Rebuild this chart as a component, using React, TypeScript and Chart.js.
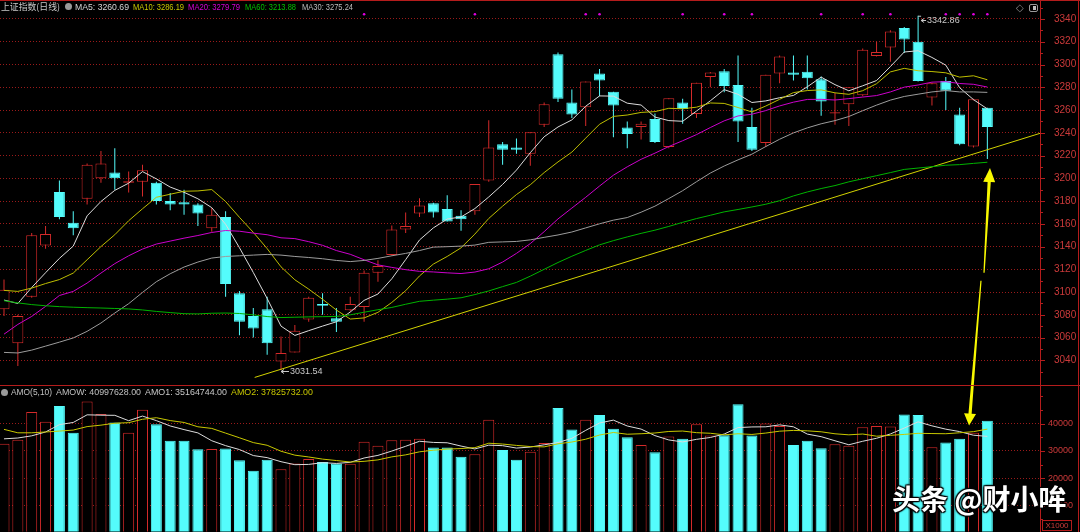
import React, { useEffect, useRef } from "react";
import { Chart, registerables } from "chart.js";

Chart.register(...registerables);

// ---------- data ----------
const OPEN = [3085, 3055, 3096, 3141, 3188, 3161, 3182, 3200, 3205, 3196, 3197, 3196, 3180, 3179, 3177, 3156, 3166, 3099, 3079, 3085, 3039, 3047, 3076, 3089.5, 3077, 3084, 3087, 3117, 3132.5, 3155, 3169, 3178, 3173, 3167, 3171, 3198, 3230, 3227, 3221.5, 3247, 3309, 3266.5, 3262.5, 3292, 3276, 3244.6, 3245, 3252, 3227.4, 3266.5, 3256.6, 3289, 3294, 3282, 3245, 3231, 3292, 3293, 3293.7, 3287, 3257, 3265, 3273, 3307.5, 3315, 3332, 3320, 3271, 3285.6, 3256, 3228, 3262];
const HIGH = [3111, 3080, 3152, 3158, 3198, 3171, 3213, 3224, 3226.5, 3206, 3212, 3197, 3187, 3190, 3178, 3174, 3171, 3101, 3086, 3096, 3061, 3071, 3096, 3099, 3086, 3096, 3119, 3128, 3158.5, 3170, 3182.5, 3178.5, 3185, 3172, 3195, 3251, 3232, 3235, 3240.5, 3266.5, 3310.5, 3278, 3285, 3296, 3276, 3250, 3250, 3257, 3270.4, 3270, 3284, 3293.5, 3296, 3308, 3262, 3291, 3308, 3308, 3308, 3289.4, 3275, 3280, 3314, 3320, 3330, 3333, 3342.86, 3284, 3289, 3262, 3270, 3262];
const LOW = [3079, 3035, 3095, 3138, 3164, 3150, 3177, 3196, 3190, 3187.5, 3184, 3177, 3172, 3168, 3158, 3153, 3096, 3062, 3060, 3045, 3031.54, 3047, 3074, 3080, 3065, 3083, 3074, 3109, 3132, 3152, 3166, 3165.6, 3162, 3154, 3168, 3197, 3212, 3221.6, 3211, 3245, 3267, 3253, 3246, 3272, 3236, 3226.5, 3234, 3231, 3226.5, 3248, 3253, 3280, 3275.6, 3232, 3224, 3227.4, 3283.5, 3286, 3278, 3255, 3247, 3246, 3272, 3307, 3302.5, 3310, 3285, 3264, 3260, 3229, 3227, 3217];
const CLOSE = [3102, 3079, 3150, 3151, 3166, 3156, 3212, 3213, 3200, 3197.5, 3207, 3180, 3177, 3177, 3169, 3168, 3107, 3074, 3068, 3055, 3046.5, 3066, 3095, 3088, 3074, 3089.5, 3117, 3123, 3155, 3158, 3176, 3170, 3162, 3164, 3195, 3227, 3225, 3225, 3240.5, 3265, 3270, 3256, 3285, 3286, 3264, 3239, 3248, 3232, 3270.4, 3261, 3284, 3293, 3281, 3250, 3225, 3291, 3307, 3291, 3288, 3267.4, 3258, 3280, 3313, 3311, 3329, 3322, 3285.6, 3283.5, 3277, 3230, 3269.5, 3245];

const MA5 = [3093, 3090, 3104, 3117, 3129.6, 3140.4, 3167, 3179.6, 3189.4, 3195.7, 3205.9, 3199.5, 3192.3, 3187.7, 3182, 3174.2, 3159.6, 3139, 3117.2, 3094.4, 3070.1, 3061.9, 3066.1, 3070.1, 3073.9, 3082.5, 3092.7, 3098.3, 3111.7, 3128.5, 3145.8, 3156.4, 3164.2, 3166, 3173.4, 3183.6, 3194.6, 3207.2, 3222.5, 3236.5, 3245.1, 3251.3, 3263.3, 3272.4, 3272.2, 3266, 3264.4, 3253.8, 3250.7, 3250.1, 3259.1, 3268.1, 3277.9, 3273.8, 3266.6, 3268, 3270.8, 3272.8, 3280.4, 3288.9, 3282.3, 3276.9, 3281.3, 3285.9, 3298.2, 3311, 3312.1, 3306.2, 3299.4, 3279.6, 3269.1, 3261];
const MA10 = [3101.5, 3100.6, 3103.5, 3107.5, 3111, 3116.7, 3128.4, 3140, 3150.4, 3162.7, 3173.2, 3183.3, 3186, 3188.6, 3188.9, 3190.1, 3179.6, 3165.7, 3152.5, 3138.2, 3122.2, 3110.8, 3102.6, 3093.7, 3084.2, 3076.3, 3077.3, 3082.2, 3090.9, 3101.2, 3114.2, 3124.6, 3131.3, 3138.9, 3151, 3164.7, 3175.5, 3185.7, 3194.3, 3205, 3214.4, 3223, 3235.3, 3247.5, 3254.4, 3255.6, 3257.9, 3258.6, 3261.5, 3261.1, 3262.5, 3266.2, 3265.8, 3262.2, 3258.3, 3263.5, 3269.4, 3275.3, 3277.1, 3277.7, 3275.1, 3273.8, 3277, 3283.1, 3293.5, 3296.6, 3294.5, 3293.8, 3292.7, 3288.9, 3290.1, 3286.6];
const MA20 = [3063, 3071.6, 3078.6, 3087.4, 3097, 3100.6, 3107.9, 3116.7, 3125, 3131.9, 3137.8, 3142.2, 3144.8, 3147.4, 3149.7, 3152.4, 3154.1, 3153.5, 3151.8, 3150.4, 3147.7, 3147, 3144.3, 3141.1, 3136.5, 3133.2, 3128.4, 3123.9, 3121.7, 3119.7, 3118.2, 3117.7, 3116.9, 3116.3, 3117.6, 3120.5, 3126.4, 3134, 3142.6, 3153.1, 3164.3, 3173.8, 3183.3, 3193.2, 3202.7, 3210.1, 3216.7, 3222.1, 3227.9, 3233, 3238.4, 3244.6, 3250.5, 3254.8, 3256.3, 3259.5, 3263.6, 3266.9, 3269.3, 3269.4, 3268.8, 3270, 3271.4, 3272.7, 3275.9, 3280.1, 3282, 3284.5, 3284.9, 3283.3, 3282.6, 3280.2];
const MA30 = [3047, 3046.5, 3049, 3052.5, 3056, 3059.7, 3065.5, 3072.8, 3081.6, 3089.8, 3099.7, 3109.1, 3116.1, 3122, 3126.4, 3129.9, 3131.3, 3131.9, 3132.5, 3133.1, 3132.5, 3131.3, 3130.4, 3129.3, 3127.8, 3126.8, 3127.8, 3129.6, 3131.9, 3134, 3136.5, 3139.5, 3139.9, 3140.4, 3141.3, 3143.7, 3144.1, 3144.5, 3145.9, 3148.1, 3150.2, 3152.8, 3156.4, 3160, 3163.2, 3165.5, 3170.2, 3175.5, 3182.2, 3189.1, 3197, 3204.6, 3210.8, 3216.2, 3221.2, 3227.9, 3234.3, 3239.9, 3244.3, 3247.9, 3250.7, 3254.3, 3259.4, 3264.3, 3268.7, 3271.9, 3273.9, 3275.9, 3277.1, 3275.9, 3275.9, 3275.5];
const MA60 = [3092.4, 3090.5, 3089, 3088, 3087.2, 3086.7, 3086.3, 3086, 3085.6, 3085.2, 3084.3, 3083, 3082, 3081, 3080.8, 3081.4, 3081.6, 3081.2, 3080, 3078.5, 3077.6, 3077.9, 3078.2, 3078.4, 3078.6, 3080, 3082.3, 3084.5, 3086.5, 3089.3, 3091.9, 3092.9, 3093.8, 3095, 3097.8, 3101, 3104.8, 3108.5, 3114, 3120, 3126, 3131.5, 3136.6, 3141.5, 3145.2, 3148.5, 3151.6, 3154.4, 3157.7, 3161.3, 3164.6, 3167.5, 3170.5, 3172.6, 3174.8, 3177.2, 3180.3, 3184.5, 3188, 3191, 3193.6, 3196.9, 3199.6, 3202.3, 3205, 3207.8, 3209, 3210.2, 3211.5, 3212, 3213.1, 3214.1];

// amounts, in thousands (axis unit X1000)
const AMOUNT = [32600, 34090, 44160, 40620, 46430, 36610, 48030, 43510, 40370, 36610, 45040, 39750, 33730, 33730, 30590, 30700, 30840, 26540, 22780, 26790, 23290, 25400, 27050, 25920, 25400, 25300, 33320, 31830, 33840, 34090, 34460, 31210, 31210, 27810, 28800, 41390, 30330, 26790, 29710, 32850, 45660, 37850, 41390, 43140, 38110, 34970, 32190, 29460, 35220, 34460, 39750, 35590, 35730, 47050, 35590, 40000, 39130, 32190, 33730, 30950, 32450, 31830, 38620, 39130, 38870, 43250, 43140, 31320, 33070, 34460, 36610, 40998];
const AMO1 = [34400, 34700, 35500, 36900, 39580, 40382, 43170, 43040, 42990, 41026, 42712, 41056, 39100, 37772, 36568, 33700, 31918, 30480, 28290, 27530, 26048, 24960, 25062, 25690, 25412, 25814, 27398, 28354, 29938, 31676, 33508, 33086, 32962, 31756, 30698, 32084, 31908, 31024, 31404, 32214, 33068, 34572, 37492, 40178, 41230, 39092, 37960, 35574, 33990, 33260, 34216, 34896, 36150, 38516, 38742, 38792, 39500, 38792, 36128, 35200, 33690, 32230, 33516, 34596, 36180, 38340, 40602, 39142, 37930, 37048, 35720, 35292];
const AMO2 = [37850, 36600, 36600, 36900, 37230, 37600, 38870, 39400, 40100, 40303, 41547, 42113, 41070, 40381, 38797, 38206, 36487, 34790, 33031, 32049, 29874, 28439, 27771, 26990, 26471, 25931, 26179, 26708, 27814, 28544, 29661, 30242, 30658, 30847, 31187, 32796, 32497, 31993, 31580, 31456, 32576, 33240, 34258, 35791, 36722, 36080, 36266, 36533, 37084, 37245, 36654, 36428, 35862, 36253, 36001, 36504, 37198, 37471, 37322, 36971, 36241, 35865, 36154, 35362, 35690, 36015, 36416, 36329, 36263, 36614, 37030, 37947];

const PRICE_TICK_MARKS = [3030, 3040, 3050, 3060, 3070, 3080, 3090, 3100, 3110, 3120, 3130, 3140, 3150, 3160, 3170, 3180, 3190, 3200, 3210, 3220, 3230, 3240, 3250, 3260, 3270, 3280, 3290, 3300, 3310, 3320, 3330, 3340, 3350];
const PRICE_LABELS = [3040, 3060, 3080, 3100, 3120, 3140, 3160, 3180, 3200, 3220, 3240, 3260, 3280, 3300, 3320, 3340];
const AMOUNT_TICK_MARKS = [5000, 10000, 15000, 20000, 25000, 30000, 35000, 40000, 45000, 50000];
const AMOUNT_LABELS = [10000, 20000, 30000, 40000];

const SIGNAL_INDEX = [26, 34, 42, 43, 49, 52, 54, 59, 62, 64, 68, 69, 70, 71];
const SIGNAL_LEVEL = 3344.1;

const TREND_X = [18.1, 74.8];
const TREND_Y = [3025, 3239.5];

// annotation arrows: [index, value] pairs
const ARROW_UP_FROM = [70.76, 3117];
const ARROW_UP_TO = [71.19, 3209];
const ARROW_DOWN_FROM = [70.54, 3110]; // price axis
const ARROW_DOWN_TO = [69.68, 39240]; // amount axis

// ---------- style ----------
const RED = "#d42a2a";
const CYAN = "#54fcfc";
const GRID = "#9a1a1a";
const AXIS = "#b41c1c";
const AXIS_TEXT = "#cc3a3a";
const FONT = '"Liberation Sans", Arial, sans-serif';

const isUp = (i: number) => CLOSE[i] >= OPEN[i];

function drawBigArrow(ctx: CanvasRenderingContext2D, ax: number, ay: number, tx: number, ty: number, headLen: number) {
  const dx = tx - ax, dy = ty - ay;
  const len = Math.hypot(dx, dy);
  const ux = dx / len, uy = dy / len;
  const nx = -uy, ny = ux;
  const bx = tx - ux * headLen, by = ty - uy * headLen;
  const hw = 6;
  ctx.beginPath();
  ctx.moveTo(ax + nx * 0.6, ay + ny * 0.6);
  ctx.lineTo(bx + nx * 1.6, by + ny * 1.6);
  ctx.lineTo(bx + nx * hw, by + ny * hw);
  ctx.lineTo(tx, ty);
  ctx.lineTo(bx - nx * hw, by - ny * hw);
  ctx.lineTo(bx - nx * 1.6, by - ny * 1.6);
  ctx.lineTo(ax - nx * 0.6, ay - ny * 0.6);
  ctx.closePath();
  ctx.fill();
}

function drawSmallLeftArrow(ctx: CanvasRenderingContext2D, x1: number, x2: number, y: number) {
  ctx.beginPath();
  ctx.moveTo(x1, y);
  ctx.lineTo(x2, y);
  ctx.moveTo(x2, y);
  ctx.lineTo(x2 + 3, y - 2);
  ctx.moveTo(x2, y);
  ctx.lineTo(x2 + 3, y + 2);
  ctx.stroke();
}

function drawTickMarks(ctx: CanvasRenderingContext2D, scale: any, marks: number[], labels: number[]) {
  const x0 = Math.round(scale.left) + 1;
  ctx.beginPath();
  marks.forEach((v) => {
    const y = Math.round(scale.getPixelForValue(v)) + 0.5;
    if (y < scale.top || y > scale.bottom) return;
    ctx.moveTo(x0, y);
    ctx.lineTo(x0 + (labels.includes(v) ? 4 : 2), y);
  });
  ctx.stroke();
}

const overlayPlugin = {
  id: "overlay",
  afterDatasetsDraw(chart: any) {
    const { ctx } = chart;
    const xs = chart.scales.x, ys = chart.scales.y, yv = chart.scales.yv;
    ctx.save();
    let hi = 0, lo = 0;
    HIGH.forEach((v, i) => { if (v > HIGH[hi]) hi = i; });
    LOW.forEach((v, i) => { if (v < LOW[lo]) lo = i; });
    ctx.strokeStyle = "#c8c8c8";
    ctx.fillStyle = "#c8c8c8";
    ctx.lineWidth = 1;
    ctx.font = "9px " + FONT;
    ctx.textBaseline = "middle";
    ctx.textAlign = "left";
    const hx = xs.getPixelForValue(hi), hy = ys.getPixelForValue(HIGH[hi]);
    ctx.beginPath();
    ctx.moveTo(hx, hy + 0.5);
    ctx.lineTo(hx + 3, hy + 0.5);
    ctx.stroke();
    drawSmallLeftArrow(ctx, hx + 8, hx + 3, Math.round(hy + 4) + 0.5);
    ctx.fillText(HIGH[hi].toFixed(2), hx + 9, hy + 4.5);
    const lx = xs.getPixelForValue(lo), ly = ys.getPixelForValue(LOW[lo]);
    drawSmallLeftArrow(ctx, lx + 8, lx, Math.round(ly + 1) + 0.5);
    ctx.fillText(LOW[lo].toFixed(2), lx + 9, ly + 1.5);

    ctx.fillStyle = "#f8f800";
    drawBigArrow(ctx,
      xs.getPixelForValue(ARROW_UP_FROM[0]), ys.getPixelForValue(ARROW_UP_FROM[1]),
      xs.getPixelForValue(ARROW_UP_TO[0]), ys.getPixelForValue(ARROW_UP_TO[1]), 14);
    drawBigArrow(ctx,
      xs.getPixelForValue(ARROW_DOWN_FROM[0]), ys.getPixelForValue(ARROW_DOWN_FROM[1]),
      xs.getPixelForValue(ARROW_DOWN_TO[0]), yv.getPixelForValue(ARROW_DOWN_TO[1]), 12);
    ctx.restore();
  },
  afterDraw(chart: any) {
    const { ctx, width, height } = chart;
    const ys = chart.scales.y, yv = chart.scales.yv;
    ctx.save();
    ctx.strokeStyle = AXIS;
    ctx.lineWidth = 1;
    ctx.beginPath();
    ctx.moveTo(0, 0.5); ctx.lineTo(width, 0.5);
    ctx.moveTo(0, Math.round(ys.bottom) + 0.5); ctx.lineTo(width, Math.round(ys.bottom) + 0.5);
    ctx.moveTo(width - 1.5, 0); ctx.lineTo(width - 1.5, height);
    ctx.moveTo(Math.round(ys.left) + 0.5, 0); ctx.lineTo(Math.round(ys.left) + 0.5, height);
    ctx.stroke();
    drawTickMarks(ctx, ys, PRICE_TICK_MARKS, PRICE_LABELS);
    drawTickMarks(ctx, yv, AMOUNT_TICK_MARKS, AMOUNT_LABELS);
    ctx.restore();
  },
};

function buildConfig(): any {
  const idx = OPEN.map((_, i) => i);
  const pts = (arr: number[]) => arr.map((v, i) => ({ x: i, y: v }));
  const line = (label: string, arr: number[], color: string, axis: string) => ({
    type: "line", label, data: pts(arr), yAxisID: axis, borderColor: color, borderWidth: 1,
    pointRadius: 0, tension: 0, order: 0,
  });
  const bar = { grouped: false, borderSkipped: false, inflateAmount: 0 };
  const transparent = "rgba(0,0,0,0)";
  return {
    type: "bar",
    data: {
      datasets: [
        {
          ...bar, label: "wick", yAxisID: "y", order: 3, barThickness: 1, borderWidth: 0,
          data: idx.map((i) => ({ x: i, y: [LOW[i], HIGH[i]] })),
          backgroundColor: idx.map((i) => (isUp(i) ? RED : CYAN)),
        },
        {
          ...bar, label: "body", yAxisID: "y", order: 2, barThickness: 11, borderWidth: 1, minBarLength: 1,
          data: idx.map((i) => ({ x: i, y: [OPEN[i], CLOSE[i]] })),
          backgroundColor: idx.map((i) => (isUp(i) ? "#000000" : CYAN)),
          borderColor: idx.map((i) => (isUp(i) ? RED : CYAN)),
        },
        {
          ...bar, label: "amount", yAxisID: "yv", order: 2, barThickness: 11, borderWidth: 1,
          data: idx.map((i) => ({ x: i, y: AMOUNT[i] })),
          backgroundColor: idx.map((i) => (isUp(i) ? "#000000" : CYAN)),
          borderColor: idx.map((i) => (isUp(i) ? RED : CYAN)),
        },
        line("MA60", MA60, "#00b400", "y"),
        line("MA30", MA30, "#9c9c9c", "y"),
        line("MA20", MA20, "#cc00cc", "y"),
        line("MA10", MA10, "#bebe00", "y"),
        line("MA5", MA5, "#dcdcdc", "y"),
        {
          type: "line", label: "trend", yAxisID: "y", order: 0, borderColor: "#d2d200", borderWidth: 1,
          pointRadius: 0, data: TREND_X.map((x, k) => ({ x, y: TREND_Y[k] })),
        },
        {
          type: "line", label: "signal", yAxisID: "y", order: 0, showLine: false, pointRadius: 1.3,
          pointBackgroundColor: "#e000e0", pointBorderWidth: 0,
          data: SIGNAL_INDEX.map((i) => ({ x: i, y: SIGNAL_LEVEL })),
        },
        line("AMO2", AMO2, "#c8c800", "yv"),
        line("AMO1", AMO1, "#dcdcdc", "yv"),
      ],
    },
    options: {
      responsive: false,
      maintainAspectRatio: false,
      devicePixelRatio: 1,
      animation: false,
      events: [],
      layout: { autoPadding: false, padding: { top: 3, right: 0, bottom: 0, left: 0 } },
      plugins: { legend: { display: false }, tooltip: { enabled: false } },
      scales: {
        x: { type: "linear", min: -0.2888, max: 74.8014, display: false, offset: false },
        y: {
          type: "linear", position: "right", stack: "panels", stackWeight: 382,
          min: 3018.66, max: 3354.05,
          afterBuildTicks: (s: any) => { s.ticks = PRICE_TICK_MARKS.map((v) => ({ value: v })); },
          afterFit: (s: any) => { s.width = 40; },
          ticks: {
            autoSkip: false, color: AXIS_TEXT, padding: 0, font: { family: FONT, size: 10, lineHeight: 0.1 },
            callback: (v: number) => (PRICE_LABELS.includes(v) ? String(v) : ""),
          },
          grid: {
            color: (c: any) => (c.tick && PRICE_LABELS.includes(c.tick.value) ? GRID : transparent),
            tickColor: transparent, tickLength: 14, tickBorderDash: [], lineWidth: 1,
          },
          border: { display: true, color: AXIS, dash: [1, 2] },
        },
        yv: {
          type: "linear", position: "right", stack: "panels", stackWeight: 147,
          min: 547, max: 54197,
          afterBuildTicks: (s: any) => { s.ticks = AMOUNT_TICK_MARKS.map((v) => ({ value: v })); },
          afterFit: (s: any) => { s.width = 40; },
          ticks: {
            autoSkip: false, color: AXIS_TEXT, padding: 0, font: { family: FONT, size: 9, lineHeight: 0.1 },
            callback: (v: number) => (AMOUNT_LABELS.includes(v) ? String(v) : ""),
          },
          grid: {
            color: (c: any) => (c.tick && AMOUNT_LABELS.includes(c.tick.value) ? GRID : transparent),
            tickColor: transparent, tickLength: 8, tickBorderDash: [], lineWidth: 1,
          },
          border: { display: true, color: AXIS, dash: [1, 2] },
        },
      },
    },
    plugins: [overlayPlugin],
  };
}

// horizontally fit a header label to the width it takes in the reference
let measureCtx: CanvasRenderingContext2D | null = null;
function fitScale(text: string, size: number, family: string, target: number): number {
  if (typeof document === "undefined") return 1;
  if (!measureCtx) measureCtx = document.createElement("canvas").getContext("2d");
  if (!measureCtx) return 1;
  measureCtx.font = `${size}px ${family}`;
  const w = measureCtx.measureText(text).width;
  return w > 0 ? target / w : 1;
}

function Label(props: { text: string; left: number; cy: number; color: string; width?: number; size?: number; family?: string }) {
  const size = props.size || 9;
  const family = props.family || FONT;
  const sx = props.width ? fitScale(props.text, size, family, props.width) : 1;
  return (
    <div style={{
      position: "absolute", left: props.left, top: props.cy - 6, height: 12, lineHeight: "12px", fontSize: size,
      color: props.color, whiteSpace: "nowrap", fontFamily: family,
      transform: `scaleX(${sx})`, transformOrigin: "0 50%",
    }}>{props.text}</div>
  );
}

export default function App() {
  const ref = useRef<HTMLCanvasElement>(null);
  useEffect(() => {
    document.body.style.margin = "0";
    document.body.style.background = "#000";
    const chart = new Chart(ref.current as HTMLCanvasElement, buildConfig());
    return () => chart.destroy();
  }, []);
  const dot: React.CSSProperties = { position: "absolute", width: 7, height: 7, borderRadius: "50%", background: "#9a9a9a" };
  const CJK = '"Noto Sans CJK SC", sans-serif';
  return (
    <div style={{ position: "relative", width: 1080, height: 532, background: "#000", overflow: "hidden" }}>
      <canvas ref={ref} width={1080} height={532} style={{ position: "absolute", left: 0, top: 0, width: 1080, height: 532 }} />
      {/* price header */}
      <Label text="上证指数(日线)" left={1} cy={7} color="#c8c8c8" family={CJK} width={59} />
      <div style={{ ...dot, left: 65, top: 3 }} />
      <Label text="MA5: 3260.69" left={75} cy={7} color="#d4d4d4" width={54} />
      <Label text="MA10: 3286.19" left={133} cy={7} color="#c8c800" width={51} />
      <Label text="MA20: 3279.79" left={188} cy={7} color="#d800d8" width={52} />
      <Label text="MA60: 3213.88" left={245} cy={7} color="#00c000" width={51} />
      <Label text="MA30: 3275.24" left={302} cy={7} color="#bcbcbc" width={51} />
      <Label text="◇" left={1016} cy={8} color="#8a8a8a" size={10} />
      <div style={{ position: "absolute", left: 1029, top: 4, width: 7, height: 6, border: "1px solid #9a9a9a", borderRadius: 2 }}>
        <div style={{ position: "absolute", right: 1, top: 1, width: 3, height: 4, background: "#bdbdbd" }} />
      </div>
      {/* amount header */}
      <div style={{ ...dot, left: 1, top: 389 }} />
      <Label text="AMO(5,10)" left={11} cy={392} color="#c0c0c0" width={41} />
      <Label text="AMOW: 40997628.00" left={56} cy={392} color="#c0c0c0" width={85} />
      <Label text="AMO1: 35164744.00" left={145} cy={392} color="#c8c8c8" width={82} />
      <Label text="AMO2: 37825732.00" left={231} cy={392} color="#c8c800" width={82} />
      {/* unit box */}
      <div style={{ position: "absolute", left: 1042, top: 520, width: 28, height: 9, border: "1px solid " + AXIS, color: AXIS_TEXT, fontSize: 8, lineHeight: "9px", textAlign: "center", fontFamily: FONT }}>X1000</div>
      {/* watermark */}
      <div style={{
        position: "absolute", left: 892, top: 481, fontSize: 28, lineHeight: "34px", fontWeight: 700, color: "#ffffff",
        fontFamily: CJK, whiteSpace: "nowrap",
        textShadow: "1px 1px 1px #000, -1px -1px 1px #000, 1px -1px 1px #000, -1px 1px 1px #000, 0 0 3px #000",
      }}>头条 @财小哞</div>
    </div>
  );
}
